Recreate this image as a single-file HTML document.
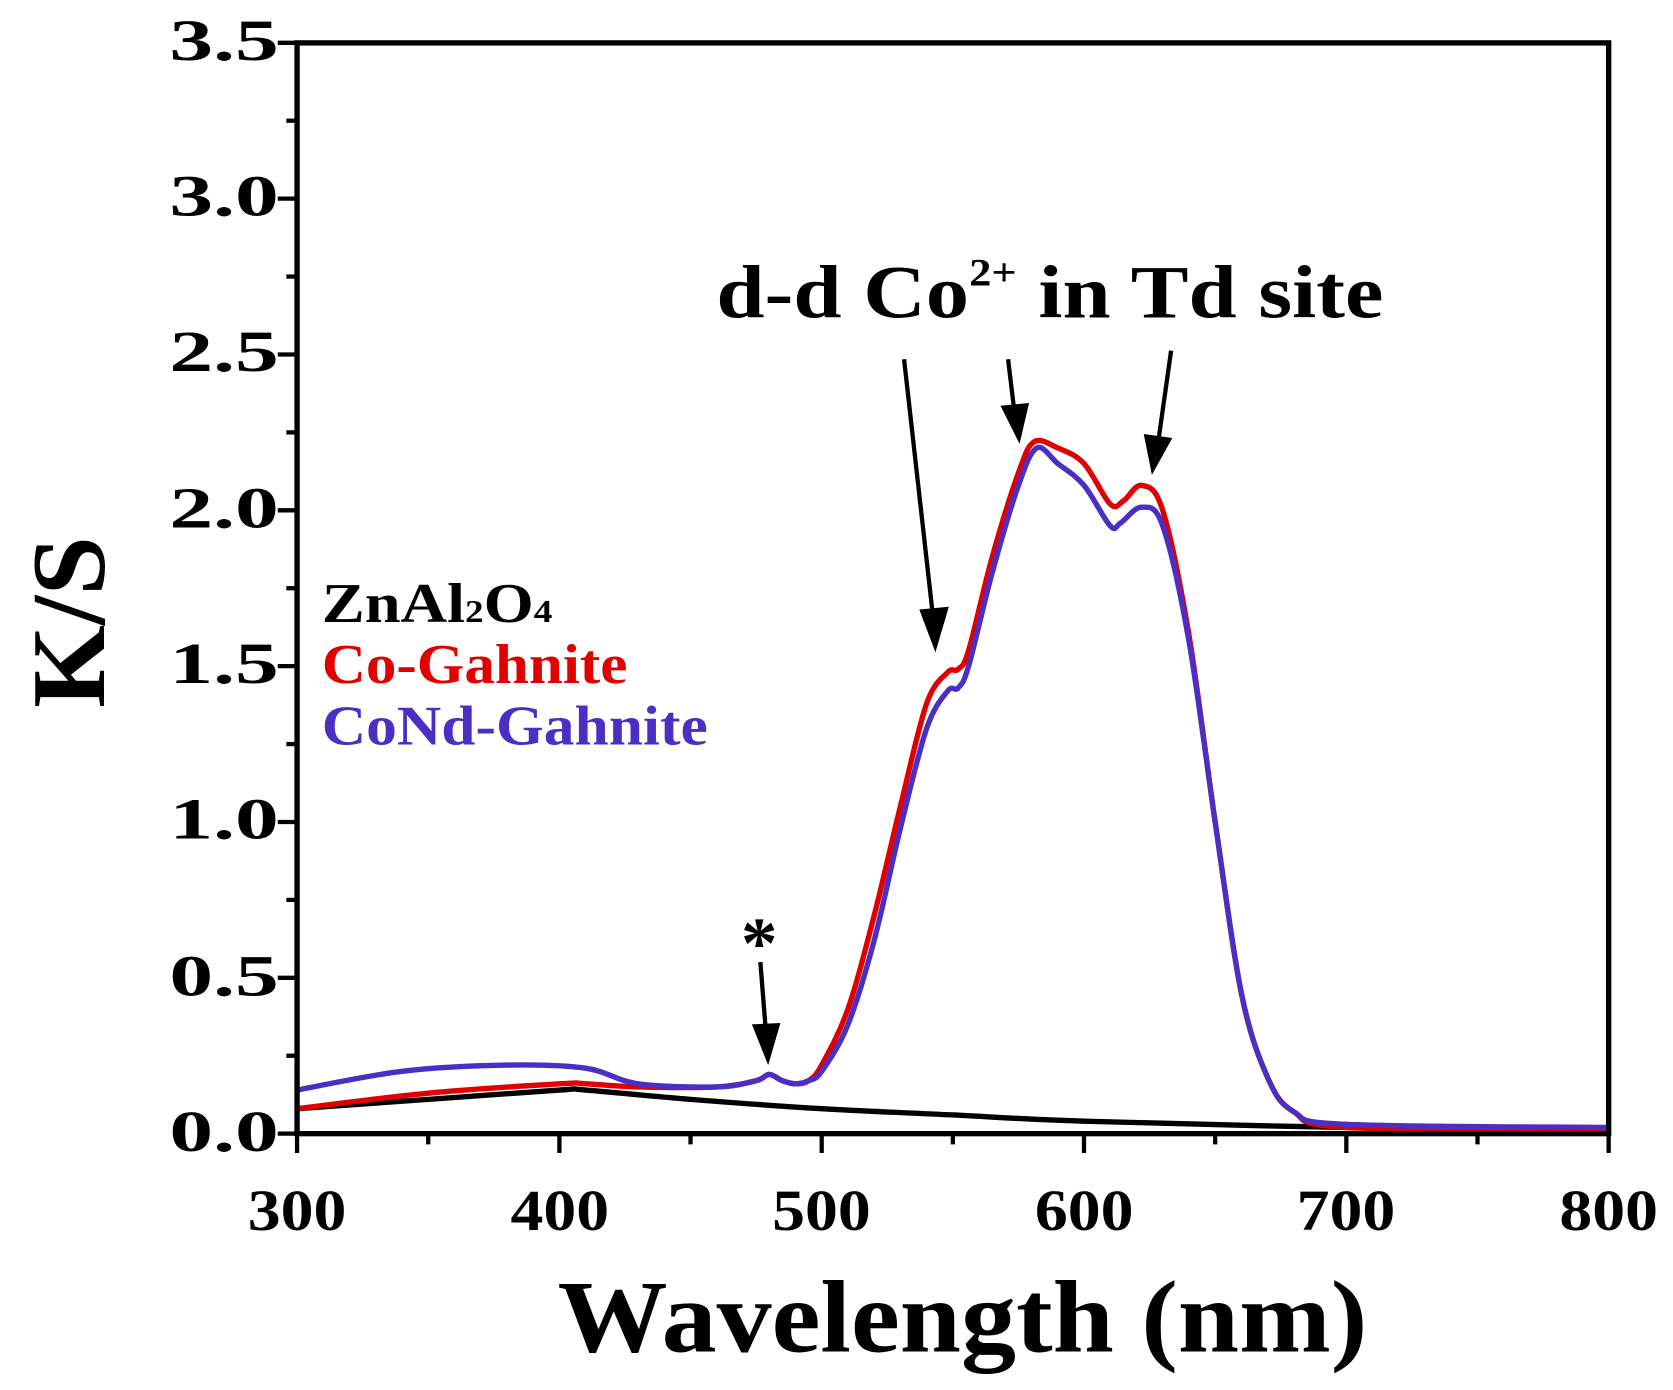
<!DOCTYPE html>
<html><head><meta charset="utf-8"><style>
html,body{margin:0;padding:0;background:#fff;}
svg{display:block;}
text{font-family:"Liberation Serif",serif;font-weight:bold;}
</style></head><body>
<svg id="s" width="1673" height="1390" viewBox="0 0 1560 1296" preserveAspectRatio="none" xmlns="http://www.w3.org/2000/svg">
<g id="ticks" stroke="#000" stroke-width="4"></g>
<path id="pk" fill="none" stroke="#000" stroke-width="5"/>
<path id="pr" fill="none" stroke="#e00000" stroke-width="5"/>
<path id="pb" fill="none" stroke="#4b2fc4" stroke-width="5"/>
<rect x="277" y="40" width="1223" height="1017" fill="none" stroke="#000" stroke-width="5"/>
<g font-size="54">
<text x="158" y="1073" textLength="102" lengthAdjust="spacingAndGlyphs">0.0</text><text x="158" y="928" textLength="102" lengthAdjust="spacingAndGlyphs">0.5</text><text x="158" y="782" textLength="102" lengthAdjust="spacingAndGlyphs">1.0</text>
<text x="158" y="637" textLength="102" lengthAdjust="spacingAndGlyphs">1.5</text><text x="158" y="492" textLength="102" lengthAdjust="spacingAndGlyphs">2.0</text><text x="158" y="346" textLength="102" lengthAdjust="spacingAndGlyphs">2.5</text>
<text x="158" y="201" textLength="102" lengthAdjust="spacingAndGlyphs">3.0</text><text x="158" y="56" textLength="102" lengthAdjust="spacingAndGlyphs">3.5</text>
</g>
<g font-size="54">
<text x="231" y="1147" textLength="92" lengthAdjust="spacingAndGlyphs">300</text><text x="476" y="1147" textLength="92" lengthAdjust="spacingAndGlyphs">400</text><text x="720" y="1147" textLength="92" lengthAdjust="spacingAndGlyphs">500</text>
<text x="965" y="1147" textLength="92" lengthAdjust="spacingAndGlyphs">600</text><text x="1209" y="1147" textLength="92" lengthAdjust="spacingAndGlyphs">700</text><text x="1454" y="1147" textLength="92" lengthAdjust="spacingAndGlyphs">800</text>
</g>
<text x="520" y="1260" font-size="96" textLength="755" lengthAdjust="spacingAndGlyphs">Wavelength (nm)</text>
<text transform="translate(97,660) rotate(-90)" font-size="98" textLength="160" lengthAdjust="spacingAndGlyphs">K/S</text>
<text x="300" y="580" font-size="52" textLength="215" lengthAdjust="spacingAndGlyphs">ZnAl<tspan font-size="30">2</tspan>O<tspan font-size="30">4</tspan></text>
<text x="300" y="637" font-size="52" fill="#e00000" textLength="285" lengthAdjust="spacingAndGlyphs">Co-Gahnite</text>
<text x="300" y="694" font-size="52" fill="#4b2fc4" textLength="360" lengthAdjust="spacingAndGlyphs">CoNd-Gahnite</text>
<text x="668" y="296" font-size="70" textLength="622" lengthAdjust="spacingAndGlyphs">d-d Co<tspan font-size="36" dy="-30">2+</tspan><tspan dy="30"> in Td site</tspan></text>
<text x="708" y="902" font-size="68" text-anchor="middle">*</text>
<g stroke="#000" stroke-width="4" fill="#000">
<line x1="843" y1="335" x2="870" y2="575"/><polygon points="872,602 860,570 882,568"/>
<line x1="940" y1="335" x2="946" y2="385"/><polygon points="950,408 936,380 957,378"/>
<line x1="1092" y1="327" x2="1080" y2="412"/><polygon points="1075,437 1069,407 1090,410"/>
<line x1="709" y1="897" x2="714" y2="960"/><polygon points="716,987 704,957 725,956"/>
</g>
</svg>
<script>
var X=w=>277+(w-300)*2.446, Y=v=>1057-v*290.6;
function path(d){var p=d.map(a=>[X(a[0]),Y(a[1])]);var s="M"+p[0][0]+","+p[0][1];
for(var i=0;i<p.length-1;i++){var p0=p[i-1]||p[i],p1=p[i],p2=p[i+1],p3=p[i+2]||p2;
s+=" C"+(p1[0]+(p2[0]-p0[0])/6)+","+(p1[1]+(p2[1]-p0[1])/6)+" "+(p2[0]-(p3[0]-p1[0])/6)+","+(p2[1]-(p3[1]-p1[1])/6)+" "+p2[0]+","+p2[1];}return s;}
var k=[[300,0.08],[350,0.11],[400,0.14],[410,0.14],[450,0.11],[500,0.08],[550,0.06],[600,0.04],[700,0.02],[800,0.01]];
var r=[[300,0.08],[350,0.13],[400,0.16],[410,0.16],[430,0.15],[460,0.15],[475,0.17],[480,0.19],[485,0.17],[490,0.16],[495,0.17],[500,0.22],[510,0.4],[520,0.7],[530,1.05],[540,1.38],[548,1.48],[552,1.49],[556,1.55],[565,1.85],[575,2.12],[581,2.22],[590,2.2],[600,2.15],[610,2.02],[615,2.03],[622,2.08],[630,2.0],[640,1.6],[650,1.0],[660,0.45],[670,0.18],[680,0.07],[700,0.02],[800,0.01]];
var b=[[300,0.14],[340,0.2],[380,0.22],[410,0.21],[430,0.16],[460,0.15],[475,0.17],[480,0.19],[485,0.17],[490,0.16],[495,0.17],[500,0.2],[510,0.35],[520,0.62],[530,0.98],[540,1.3],[548,1.42],[552,1.43],[556,1.5],[565,1.8],[575,2.08],[582,2.2],[590,2.15],[600,2.08],[610,1.95],[614,1.96],[622,2.01],[630,1.95],[640,1.58],[650,1.0],[660,0.45],[670,0.18],[680,0.07],[700,0.03],[800,0.02]];
document.getElementById("pk").setAttribute("d",path(k));
document.getElementById("pr").setAttribute("d",path(r));
document.getElementById("pb").setAttribute("d",path(b));
var g=document.getElementById("ticks"),h="";
for(var w=300;w<=800;w+=50){var x=X(w),L=(w%100==0)?18:10;h+='<line x1="'+x+'" y1="1057" x2="'+x+'" y2="'+(1057+L)+'"/>';}
for(var v=0;v<=3.5001;v+=0.25){var y=Y(v),L=(Math.round(v*4)%2==0)?18:10;h+='<line x1="277" y1="'+y+'" x2="'+(277-L)+'" y2="'+y+'"/>';}
g.innerHTML=h;
</script>
</body></html>
